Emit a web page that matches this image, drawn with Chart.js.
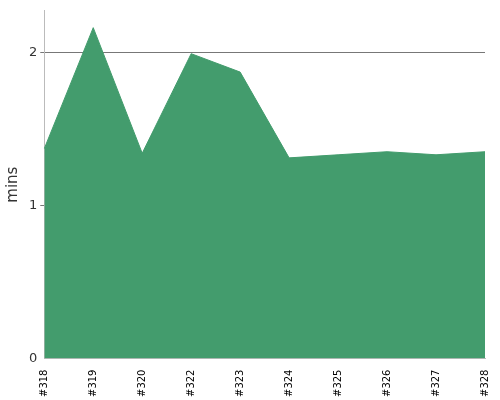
<!DOCTYPE html><html><head><script src="https://cdn.jsdelivr.net/npm/chart.js"></script>
<style>body{margin:0}#w{width:500px;height:400px}</style></head><body><div id="w"><canvas id="c"></canvas></div>
<script>
const labels=["#318","#319","#320","#322","#323","#324","#325","#326","#327","#328"];
const mins=[1.37,2.16,1.34,1.99,1.87,1.31,1.33,1.35,1.33,1.35];
new Chart(document.getElementById('c'),{type:'line',data:{labels,datasets:[{data:mins,fill:true,backgroundColor:'#439c6d',borderColor:'#439c6d',borderWidth:1,pointRadius:0,tension:0}]},
options:{responsive:true,maintainAspectRatio:false,animation:false,layout:{padding:{top:5,right:8}},plugins:{legend:{display:false},tooltip:{enabled:false}},
scales:{x:{offset:false,grid:{display:false,drawOnChartArea:false},border:{color:'#bbb'},ticks:{minRotation:90,maxRotation:90,color:'#000',font:{family:'DejaVu Sans',size:10}}},
y:{min:0,max:2.27,afterBuildTicks:a=>{a.ticks=[{value:0},{value:1},{value:2}]},grid:{color:c=>c.tick.value===0?'rgba(0,0,0,0)':'#777',tickLength:4,drawTicks:true},border:{color:'#bbb',dash:[]},ticks:{color:'#333',font:{family:'DejaVu Sans',size:13}},title:{display:true,text:'mins',color:'#333',font:{family:'DejaVu Sans',size:15}}}}}});
Chart.defaults.scale.grid.borderDash=[2,2];
</script></body></html>
